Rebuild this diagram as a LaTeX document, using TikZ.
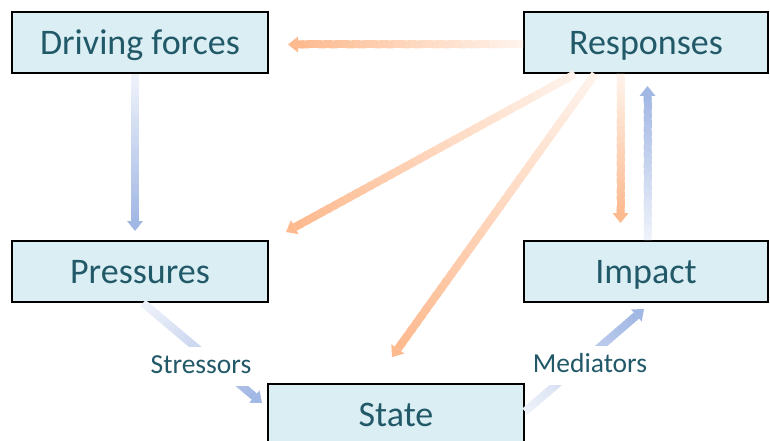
\documentclass[tikz,border=0pt]{standalone}
\usepackage{fontspec}
\setmainfont{Carlito}
\usetikzlibrary{calc}

\definecolor{boxfill}{RGB}{219,238,244}
\definecolor{tealtext}{RGB}{33,89,104}
\definecolor{arrorange}{RGB}{253,186,143}
\definecolor{arrblue}{RGB}{162,184,228}

\tikzset{
  stagebox/.style={draw=black, line width=2pt, fill=boxfill, text=tealtext,
    font=\fontsize{36}{40}\selectfont, inner sep=0pt,
    text height=24pt, text depth=0pt, minimum height=61pt},
  flowlabel/.style={fill=white, text=tealtext, font=\fontsize{27.5}{30}\selectfont,
    inner xsep=2pt, inner ysep=6pt, text height=20pt, text depth=7pt, anchor=base},
}

% thick arrow whose colour deepens from pale (tail) to full (head)
\newcommand\gradarrow[3]{%
  \coordinate (ga-base) at ($(#2)!10pt!(#1)$);
  \foreach \i in {0,...,39}{%
    \pgfmathtruncatemacro\gamix{18+82*\i/39}%
    \draw[line width=8pt, #3!\gamix!white]
      ($(#1)!{\i/40}!(ga-base)$) -- ($(#1)!{min(1,(\i+1.4)/40)}!(ga-base)$);
  }
  \fill[#3] (#2) -- ($(ga-base)!8pt!90:(#2)$) -- ($(ga-base)!8pt!-90:(#2)$) -- cycle;
}

\begin{document}
\begin{tikzpicture}[x=1pt, y=-1pt]
  \useasboundingbox (0,0) rectangle (770,441);
  \clip (0,0) rectangle (770,441);

  % the five stages
  \node[stagebox, minimum width=256pt] (drv)   at (140,42.5)  {Driving forces};
  \node[stagebox, minimum width=244pt] (resp)  at (646,42.5)  {Responses};
  \node[stagebox, minimum width=256pt] (pres)  at (140,271.5) {Pressures};
  \node[stagebox, minimum width=244pt] (imp)   at (646,271.5) {Impact};
  \node[stagebox, minimum width=256pt] (state) at (396,414.5) {State};

  % arrow end points, tied to the boxes
  \coordinate (r2d-s) at ($(resp.west)+(0,2)$);
  \coordinate (r2d-t) at ($(drv.east)+(19,2)$);
  \coordinate (d2p-s) at ($(drv.south)+(-5,0)$);
  \coordinate (d2p-t) at ($(pres.north)+(-5,-9)$);
  \coordinate (r2p-s) at ($(resp.south west)+(52,0)$);
  \coordinate (r2p-t) at ($(pres.north east)+(17,-8)$);
  \coordinate (r2s-s) at ($(resp.south west)+(72,0)$);
  \coordinate (r2s-t) at ($(state.north)+(-4,-26)$);
  \coordinate (r2i-s) at ($(resp.south west)+(97.5,0)$);
  \coordinate (r2i-t) at ($(imp.north west)+(97.5,-17)$);
  \coordinate (i2r-s) at ($(imp.north west)+(124.5,0)$);
  \coordinate (i2r-t) at ($(resp.south west)+(124.5,12)$);
  \coordinate (p2s-s) at ($(pres.south)+(3,0)$);
  \coordinate (p2s-t) at ($(state.west)+(-5,-11.5)$);
  \coordinate (s2i-s) at ($(state.east)+(0,-3)$);
  \coordinate (s2i-t) at ($(imp.south west)+(121,6)$);

  % responses
  \gradarrow{r2d-s}{r2d-t}{arrorange}
  \gradarrow{r2p-s}{r2p-t}{arrorange}
  \gradarrow{r2s-s}{r2s-t}{arrorange}
  \gradarrow{r2i-s}{r2i-t}{arrorange}

  % causal chain
  \gradarrow{d2p-s}{d2p-t}{arrblue}
  \gradarrow{i2r-s}{i2r-t}{arrblue}
  \gradarrow{p2s-s}{p2s-t}{arrblue}
  \gradarrow{s2i-s}{s2i-t}{arrblue}

  % labels sitting on the chain arrows
  \node[flowlabel] (stress) at (201,373) {Stressors};
  \node[flowlabel] (medi)   at (590,372) {Mediators};
\end{tikzpicture}
\end{document}
